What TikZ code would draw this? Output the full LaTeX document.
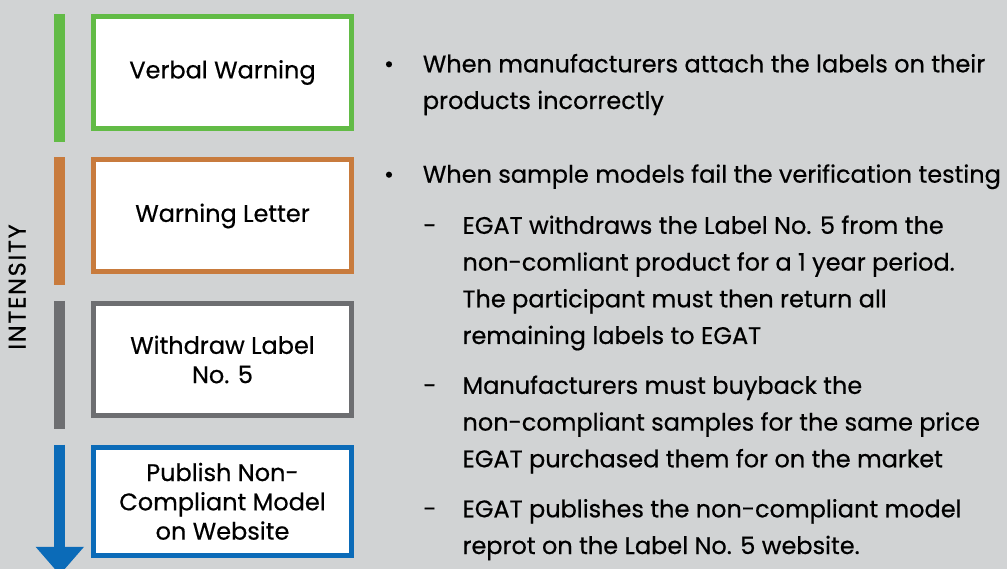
\documentclass[tikz,border=0pt]{standalone}
\usepackage{fontspec}
\setmainfont{Poppins}[FakeBold=0.5]
\usepackage{tikz}
\usetikzlibrary{positioning,arrows.meta}

\definecolor{bggray}{HTML}{D1D3D4}
\definecolor{vgreen}{HTML}{62BB46}
\definecolor{vorange}{HTML}{C87B3D}
\definecolor{vgray}{HTML}{6D6E71}
\definecolor{vblue}{HTML}{0B6BB8}

\begin{document}
\begin{tikzpicture}[x=1pt, y=-1pt,
            stagebox/.style={rectangle, draw=#1, line width=5pt, fill=white, minimum width=258pt, minimum height=112pt, align=center, font=\fontsize{24}{29.3}\selectfont},
            stagebar/.style={draw=#1, line width=11pt},
            itemtext/.style={anchor=base west, inner sep=0pt, align=left, font=\fontsize{24}{36.7}\selectfont},
            bulletmark/.style={anchor=base, inner sep=0pt, font=\fontsize{24}{36.7}\selectfont},
        ]
        \fill[bggray] (0,0) rectangle (1007,569);
        \useasboundingbox (0,0) rectangle (1007,569);
        \node[stagebox=vgreen]  (verbal)   [anchor=north west] at (91,14)  {Verbal Warning};
        \node[stagebox=vorange] (letter)   [below = 26.5pt of verbal]     {Warning Letter};
        \node[stagebox=vgray]   (withdraw) [below = 26.5pt of letter]     {Withdraw Label\\No. 5};
        \node[stagebox=vblue, minimum height=108.6pt] (publish) [below = 26.5pt of withdraw] {Publish Non-\\Compliant Model\\on Website};
        \node[rotate=90, anchor=base, font=\fontsize{24}{28}\selectfont\addfontfeatures{LetterSpace=7}] (intensity) at (25.5,287) {INTENSITY};
        \draw[stagebar=vgreen]  ([xshift=-31.2pt]verbal.north west)   -- ++(0,127.7);
        \draw[stagebar=vorange] ([xshift=-31.2pt]letter.north west)   -- ++(0,128);
        \draw[stagebar=vgray]   ([xshift=-31.2pt]withdraw.north west) -- ++(0,128.3);
        \draw[stagebar=vblue, -{Triangle[width=46.6pt, length=28pt]}] ([xshift=-31.2pt]publish.north west) -- ++(0,130.3);
        \node[bulletmark] (b1)     at (389,72.3)    {•};
        \node[itemtext]   (attach) at (422.7,109)   {When manufacturers attach the labels on their\\products incorrectly};
        \node[bulletmark] (b2)     at (389,182.7)   {•};
        \node[itemtext]   (fail)   at (422.7,182.7) {When sample models fail the verification testing};
        \node[bulletmark] (d1)     at (430,234)     {-};
        \node[itemtext]   (remove) at (462.3,344)   {EGAT withdraws the Label No. 5 from the\\non-comliant product for a 1 year period.\\The participant must then return all\\remaining labels to EGAT};
        \node[bulletmark] (d2)     at (430,394)     {-};
        \node[itemtext]   (buy)    at (462.3,467.3) {Manufacturers must buyback the\\non-compliant samples for the same price\\EGAT purchased them for on the market};
        \node[bulletmark] (d3)     at (430,517.3)   {-};
        \node[itemtext]   (report) at (462.3,554)   {EGAT publishes the non-compliant model\\reprot on the Label No. 5 website.};
    \end{tikzpicture}
\end{document}
